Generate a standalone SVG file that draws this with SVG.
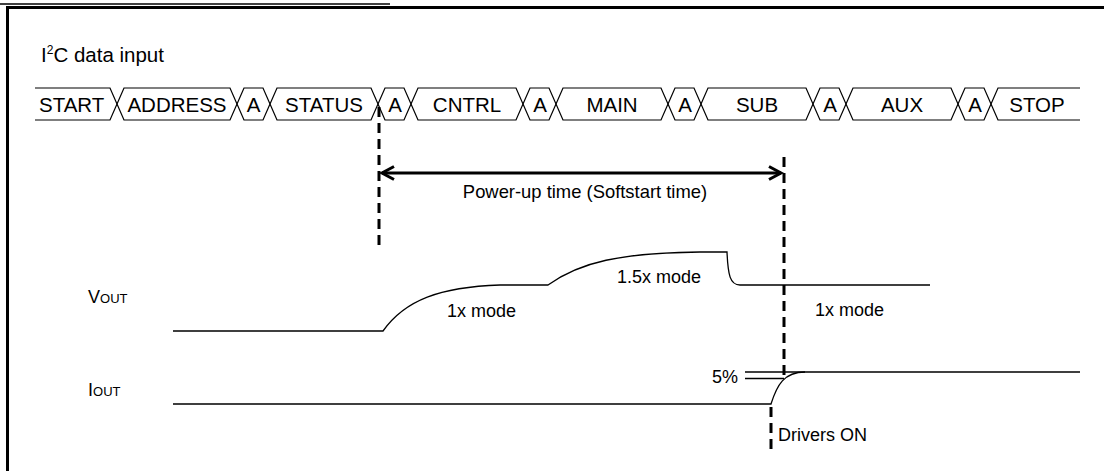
<svg xmlns="http://www.w3.org/2000/svg" width="1104" height="471" viewBox="0 0 1104 471">
<style>
text{font-family:"Liberation Sans",Arial,sans-serif;font-size:18px;fill:#000}
.lbl{font-size:20.5px}
.bus{fill:none;stroke:#000;stroke-width:1.2}
.c{text-anchor:middle}
.wave{fill:none;stroke:#000;stroke-width:1.3}
.dash{fill:none;stroke:#000;stroke-width:3;stroke-dasharray:10 6}
.arr{fill:none;stroke:#000;stroke-width:3}
.sub{font-size:13px}
</style>
<rect width="1104" height="471" fill="#fff"/>
<line x1="0" y1="4" x2="390" y2="4" stroke="#000" stroke-width="1.7"/>
<rect x="7.5" y="7.5" width="1200" height="600" fill="none" stroke="#000" stroke-width="3"/>
<g id="title"><text class="lbl" x="41" y="62">I<tspan font-size="12" dy="-8">2</tspan><tspan dy="8">C data input</tspan></text></g>
<g id="bus">
<g id="f-start"><path class="bus" d="M35,88 L110,88 L117,104 L110,120 L35,120"/><text class="lbl" x="39" y="112">START</text></g>
<g id="f-address"><path class="bus" d="M117,104 L124,88 L230,88 L237,104 L230,120 L124,120 Z"/><text class="lbl c" x="177" y="112">ADDRESS</text></g>
<g id="f-a1"><path class="bus" d="M237,104 L244,88 L263,88 L270,104 L263,120 L244,120 Z"/><text class="lbl c" x="253.5" y="112">A</text></g>
<g id="f-status"><path class="bus" d="M270,104 L277,88 L371,88 L378,104 L371,120 L277,120 Z"/><text class="lbl c" x="324" y="112">STATUS</text></g>
<g id="f-a2"><path class="bus" d="M378,104 L385,88 L404,88 L411,104 L404,120 L385,120 Z"/><text class="lbl c" x="395" y="112">A</text></g>
<g id="f-cntrl"><path class="bus" d="M411,104 L418,88 L516,88 L523,104 L516,120 L418,120 Z"/><text class="lbl c" x="467" y="112">CNTRL</text></g>
<g id="f-a3"><path class="bus" d="M523,104 L530,88 L549,88 L556,104 L549,120 L530,120 Z"/><text class="lbl c" x="540" y="112">A</text></g>
<g id="f-main"><path class="bus" d="M556,104 L563,88 L661,88 L668,104 L661,120 L563,120 Z"/><text class="lbl c" x="612" y="112">MAIN</text></g>
<g id="f-a4"><path class="bus" d="M668,104 L675,88 L694,88 L701,104 L694,120 L675,120 Z"/><text class="lbl c" x="685" y="112">A</text></g>
<g id="f-sub"><path class="bus" d="M701,104 L708,88 L806,88 L813,104 L806,120 L708,120 Z"/><text class="lbl c" x="757" y="112">SUB</text></g>
<g id="f-a5"><path class="bus" d="M813,104 L820,88 L839,88 L846,104 L839,120 L820,120 Z"/><text class="lbl c" x="830" y="112">A</text></g>
<g id="f-aux"><path class="bus" d="M846,104 L853,88 L951,88 L958,104 L951,120 L853,120 Z"/><text class="lbl c" x="902" y="112">AUX</text></g>
<g id="f-a6"><path class="bus" d="M958,104 L965,88 L984,88 L991,104 L984,120 L965,120 Z"/><text class="lbl c" x="975" y="112">A</text></g>
<g id="f-stop"><path class="bus" d="M1080,88 L998,88 L991,104 L998,120 L1080,120"/><text class="lbl c" x="1037" y="112">STOP</text></g>
</g>
<g id="connectors">
<line class="dash" x1="379" y1="107" x2="379" y2="246"/>
<line class="dash" x1="784" y1="157" x2="784" y2="379"/>
<line class="dash" x1="771" y1="407" x2="771" y2="451"/>
<line class="arr" x1="382" y1="173" x2="781" y2="173"/>
<path class="arr" d="M394,166.5 L382,173 L394,179.5"/>
<path class="arr" d="M769,166.5 L781,173 L769,179.5"/>
</g>
<g id="powerup-label"><text class="c" x="585" y="198" style="font-size:18.4px">Power-up time (Softstart time)</text></g>
<g id="vout">
<text x="88" y="303">V<tspan class="sub">OUT</tspan></text>
<path class="wave" d="M173,331 L383,331 C405,300 440,287 500,285 L548,285 C580,262 620,253 700,252 L727,252 C728,275 730,285 740,285 L930,285"/>
<text x="447" y="317">1x mode</text>
<text x="617" y="283">1.5x mode</text>
<text x="815" y="316">1x mode</text>
</g>
<g id="iout">
<text x="88" y="396">I<tspan class="sub">OUT</tspan></text>
<path class="wave" d="M173,404 L771,404 C777,385 784,372 805,372 L1080,372"/>
<line x1="745" y1="372" x2="805" y2="372" stroke="#000" stroke-width="1.3"/>
<line x1="745" y1="378.5" x2="784" y2="378.5" stroke="#000" stroke-width="1.3"/>
<text x="738" y="383" text-anchor="end">5%</text>
<text x="778" y="441">Drivers ON</text>
</g>
</svg>
